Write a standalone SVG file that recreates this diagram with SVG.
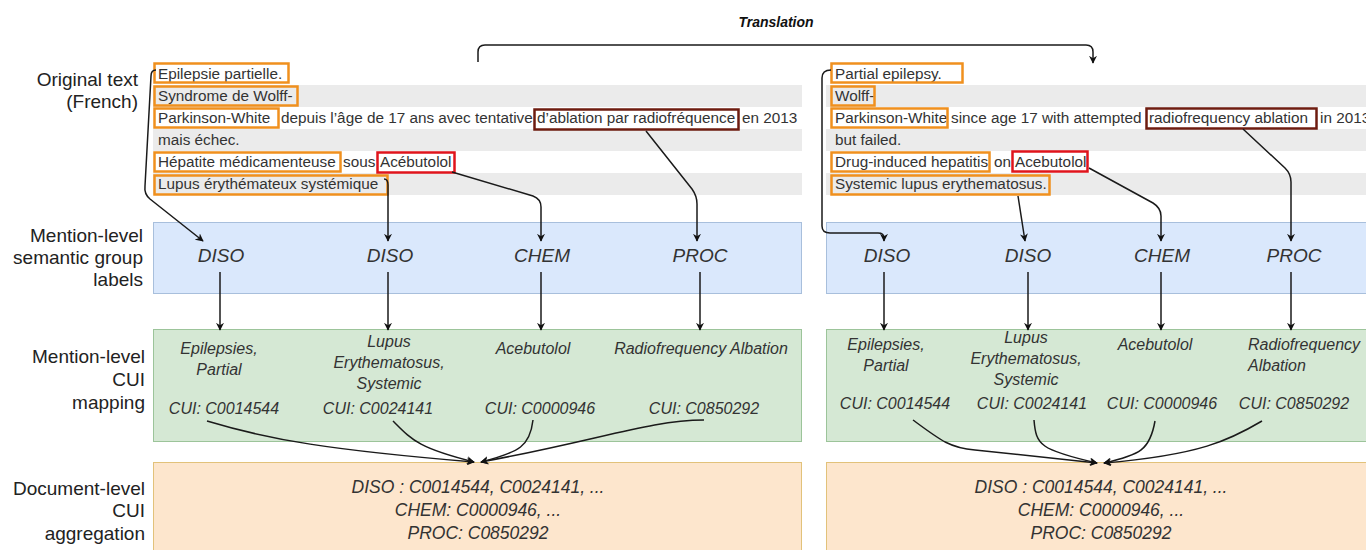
<svg xmlns="http://www.w3.org/2000/svg" width="1366" height="550" viewBox="0 0 1366 550">
<defs>
<marker id="ah" viewBox="0 0 10 10" refX="9" refY="5" markerWidth="8" markerHeight="8" markerUnits="userSpaceOnUse" orient="auto">
<path d="M0,0 L10,5 L0,10 L3,5 z" fill="#111"/>
</marker>
<style>
.lbl{font-family:"Liberation Sans",Arial,sans-serif;font-size:19px;fill:#222;text-anchor:end}
.row{font-family:"Liberation Sans",Arial,sans-serif;font-size:15.3px;fill:#333}
.grey{fill:#ebebeb}
.ob{fill:none;stroke:#f0901e;stroke-width:2.5}
.rb{fill:none;stroke:#e0141c;stroke-width:2.5}
.db{fill:none;stroke:#6e1c10;stroke-width:2.5}
.blue{fill:#dae8fc;stroke:#a8bfdc;stroke-width:1}
.green{fill:#d5e8d4;stroke:#9cc49a;stroke-width:1}
.orange{fill:#fde6cd;stroke:#e2c27a;stroke-width:1}
.sg{font-family:"Liberation Sans",Arial,sans-serif;font-size:19px;font-style:italic;fill:#333;text-anchor:middle}
.cui{font-family:"Liberation Sans",Arial,sans-serif;font-size:16px;font-style:italic;fill:#333;text-anchor:middle}
.cuis{font-family:"Liberation Sans",Arial,sans-serif;font-size:16px;font-style:italic;fill:#333;text-anchor:start}
.agg{font-family:"Liberation Sans",Arial,sans-serif;font-size:17.5px;font-style:italic;fill:#333;text-anchor:middle}
.ca{fill:none;stroke:#1a1a1a;stroke-width:1.5;marker-end:url(#ah)}
</style>
</defs>
<rect width="1366" height="550" fill="#fff"/>

<g id="translation">
<text x="776" y="27" font-family="Liberation Sans, Arial, sans-serif" font-size="14" font-weight="bold" font-style="italic" fill="#111" text-anchor="middle">Translation</text>
</g>

<g id="row-labels">
<text class="lbl" x="138" y="86">Original text</text>
<text class="lbl" x="138" y="108">(French)</text>
<text class="lbl" x="143" y="242">Mention-level</text>
<text class="lbl" x="143" y="264">semantic group</text>
<text class="lbl" x="143" y="286">labels</text>
<text class="lbl" x="145" y="363">Mention-level</text>
<text class="lbl" x="145" y="386">CUI</text>
<text class="lbl" x="145" y="409">mapping</text>
<text class="lbl" x="145" y="495">Document-level</text>
<text class="lbl" x="145" y="517">CUI</text>
<text class="lbl" x="145" y="540">aggregation</text>
</g>

<g id="french-text">
<rect class="grey" x="153" y="85" width="649" height="22"/>
<rect class="grey" x="153" y="129" width="649" height="22"/>
<rect class="grey" x="153" y="173" width="649" height="22"/>
<text class="row" x="158" y="79">Epilepsie partielle.</text>
<text class="row" x="158" y="101">Syndrome de Wolff-</text>
<text class="row" x="158" y="123">Parkinson-White</text>
<text class="row" x="281" y="123">depuis l’âge de 17 ans avec tentative</text>
<text class="row" x="537" y="123">d’ablation par radiofréquence</text>
<text class="row" x="742" y="123">en 2013</text>
<text class="row" x="158" y="145">mais échec.</text>
<text class="row" x="158" y="167">Hépatite médicamenteuse</text>
<text class="row" x="343" y="167">sous</text>
<text class="row" x="380" y="167">Acébutolol</text>
<text class="row" x="158" y="189">Lupus érythémateux systémique</text>
<rect class="ob" x="154.5" y="63.5" width="134" height="19"/>
<rect class="ob" x="154.5" y="86.5" width="143" height="19"/>
<rect class="ob" x="154.5" y="108.5" width="124" height="19"/>
<rect class="db" x="534.5" y="109.5" width="204" height="20"/>
<rect class="ob" x="154.5" y="152.5" width="186" height="19"/>
<rect class="rb" x="377.5" y="152.5" width="77" height="20"/>
<rect class="ob" x="154.5" y="175.5" width="233" height="19"/>
</g>

<g id="english-text">
<rect class="grey" x="826" y="85" width="540" height="22"/>
<rect class="grey" x="826" y="129" width="540" height="22"/>
<rect class="grey" x="826" y="173" width="540" height="22"/>
<text class="row" x="835" y="79">Partial epilepsy.</text>
<text class="row" x="835" y="101">Wolff-</text>
<text class="row" x="835" y="123">Parkinson-White</text>
<text class="row" x="951" y="123">since age 17 with attempted</text>
<text class="row" x="1149" y="123">radiofrequency ablation</text>
<text class="row" x="1320" y="123">in 2013</text>
<text class="row" x="835" y="145">but failed.</text>
<text class="row" x="835" y="167">Drug-induced hepatitis</text>
<text class="row" x="994" y="167">on</text>
<text class="row" x="1015" y="167">Acebutolol</text>
<text class="row" x="835" y="189">Systemic lupus erythematosus.</text>
<rect class="ob" x="831.5" y="63.5" width="131" height="19"/>
<rect class="ob" x="831.5" y="86.5" width="43" height="19"/>
<rect class="ob" x="831.5" y="108.5" width="116" height="19"/>
<rect class="db" x="1146.5" y="108.5" width="170" height="20"/>
<rect class="ob" x="831.5" y="152.5" width="158" height="19"/>
<rect class="rb" x="1012.5" y="151.5" width="75" height="20"/>
<rect class="ob" x="831.5" y="175.5" width="218" height="19"/>
</g>

<g id="semantic-left">
<rect class="blue" x="153.5" y="222.5" width="648" height="71"/>
<text class="sg" x="221" y="262">DISO</text>
<text class="sg" x="390" y="262">DISO</text>
<text class="sg" x="542" y="262">CHEM</text>
<text class="sg" x="700" y="262">PROC</text>
</g>
<g id="semantic-right">
<rect class="blue" x="826.5" y="222.5" width="545" height="71"/>
<text class="sg" x="887" y="262">DISO</text>
<text class="sg" x="1028" y="262">DISO</text>
<text class="sg" x="1162" y="262">CHEM</text>
<text class="sg" x="1294" y="262">PROC</text>
</g>

<g id="cui-left">
<rect class="green" x="153.5" y="329.5" width="648" height="112"/>
<text class="cui" x="219" y="354">Epilepsies,</text>
<text class="cui" x="219" y="375">Partial</text>
<text class="cui" x="389" y="347">Lupus</text>
<text class="cui" x="389" y="368">Erythematosus,</text>
<text class="cui" x="389" y="389">Systemic</text>
<text class="cui" x="533" y="354">Acebutolol</text>
<text class="cui" x="701" y="354">Radiofrequency Albation</text>
<text class="cui" x="224" y="414">CUI: C0014544</text>
<text class="cui" x="378" y="414">CUI: C0024141</text>
<text class="cui" x="540" y="414">CUI: C0000946</text>
<text class="cui" x="704" y="414">CUI: C0850292</text>
</g>
<g id="cui-right">
<rect class="green" x="826.5" y="329.5" width="545" height="112"/>
<text class="cui" x="886" y="350">Epilepsies,</text>
<text class="cui" x="886" y="371">Partial</text>
<text class="cui" x="1026" y="343">Lupus</text>
<text class="cui" x="1026" y="364">Erythematosus,</text>
<text class="cui" x="1026" y="385">Systemic</text>
<text class="cui" x="1155" y="350">Acebutolol</text>
<text class="cuis" x="1248" y="350">Radiofrequency</text>
<text class="cuis" x="1248" y="371">Albation</text>
<text class="cui" x="895" y="409">CUI: C0014544</text>
<text class="cui" x="1032" y="409">CUI: C0024141</text>
<text class="cui" x="1162" y="409">CUI: C0000946</text>
<text class="cui" x="1294" y="409">CUI: C0850292</text>
</g>

<g id="agg-left">
<rect class="orange" x="153.5" y="462.5" width="648" height="100"/>
<text class="agg" x="478" y="493">DISO : C0014544, C0024141, ...</text>
<text class="agg" x="478" y="516">CHEM: C0000946, ...</text>
<text class="agg" x="478" y="539">PROC: C0850292</text>
</g>
<g id="agg-right">
<rect class="orange" x="826.5" y="462.5" width="545" height="100"/>
<text class="agg" x="1101" y="493">DISO : C0014544, C0024141, ...</text>
<text class="agg" x="1101" y="516">CHEM: C0000946, ...</text>
<text class="agg" x="1101" y="539">PROC: C0850292</text>
</g>

<g id="connectors">
<path class="ca" d="M478 62 L478 52 Q478 45 485 45 L1086 45 Q1093 45 1093 52 L1093 63"/>
<path class="ca" d="M156 70 Q151 70 151 76 L145 186 Q144 194 150 199 L203 241"/>
<path class="ca" d="M384 179 Q388 179 388 185 L388 241"/>
<path class="ca" d="M452 172 L533 196 Q541 199 541 207 L541 241"/>
<path class="ca" d="M646 131 L692 189 Q697 196 697 204 L697 241"/>
<path class="ca" d="M220 272 L220 330"/>
<path class="ca" d="M388 272 L388 330"/>
<path class="ca" d="M541 272 L541 330"/>
<path class="ca" d="M700 272 L700 330"/>
<path class="ca" d="M207 421 C270 440 330 450 474 462"/>
<path class="ca" d="M393 421 C412 440 418 448 474 462"/>
<path class="ca" d="M533 420 C530 446 520 452 481 462"/>
<path class="ca" d="M704 420 C650 420 600 440 481 462"/>
<path class="ca" d="M831 70 Q822 70 822 78 L822 226 Q822 233 830 233 L878 233 Q884 233 884 238 L884 241"/>
<path class="ca" d="M1018 196 L1025 241"/>
<path class="ca" d="M1089 168 L1153 203 Q1161 208 1161 216 L1161 241"/>
<path class="ca" d="M1243 129 L1285 168 Q1291 174 1291 182 L1291 241"/>
<path class="ca" d="M884 272 L884 330"/>
<path class="ca" d="M1028 272 L1028 330"/>
<path class="ca" d="M1161 272 L1161 330"/>
<path class="ca" d="M1291 272 L1291 330"/>
<path class="ca" d="M913 420 C940 440 950 448 975 450 L1097 463"/>
<path class="ca" d="M1034 420 C1036 445 1040 450 1097 463"/>
<path class="ca" d="M1155 421 C1150 450 1140 455 1104 463"/>
<path class="ca" d="M1262 421 C1230 440 1200 455 1104 463"/>
</g>
</svg>
